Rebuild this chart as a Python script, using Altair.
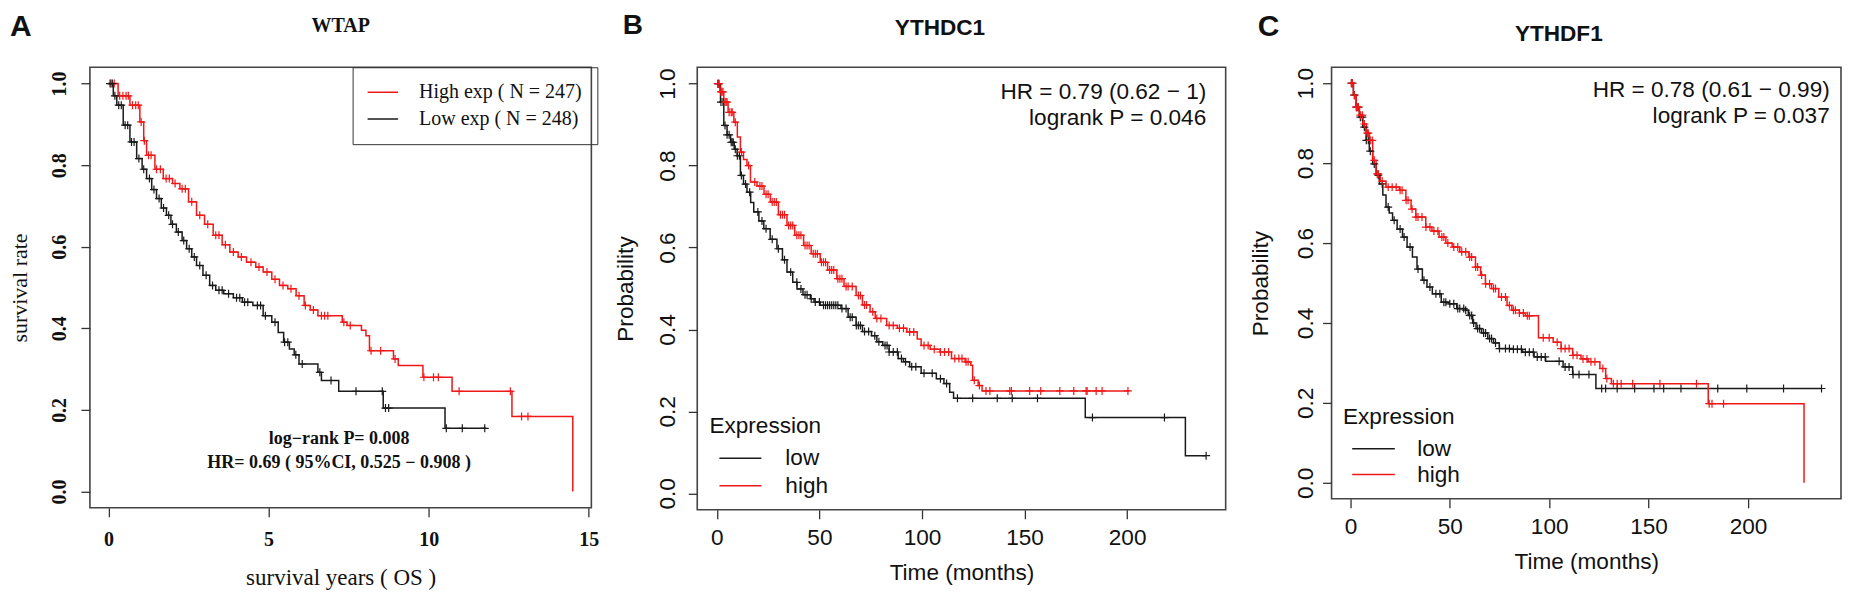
import altair as alt
import pandas as pd

RED = '#f01818'
BLACK = '#1a1a1a'
SERIF = 'Liberation Serif'
SANS = 'Liberation Sans'
PLUS = 'M-1,0L1,0M0,-1L0,1'

# ---------------- Panel A : WTAP (years) ----------------
A_NAMES = ["High exp ( N = 247)", "Low exp ( N = 248)"]
A_HIGH_T = [0, 0.3, 0.67, 0.98, 1.1, 1.19, 1.45, 1.71, 2.0, 2.23, 2.5, 2.75, 3.0, 3.27, 3.55, 3.79,
            4.05, 4.31, 4.6, 4.83, 5.1, 5.34, 5.6, 5.86, 6.11, 6.3, 6.54, 7.3, 7.45, 7.9, 8.04, 8.15,
            8.9, 9.05, 9.82, 10.73, 12.6, 14.5]
A_HIGH_S = [1.0, 0.97, 0.947, 0.906, 0.86, 0.824, 0.79, 0.767, 0.755, 0.742, 0.71, 0.677, 0.655,
            0.628, 0.605, 0.587, 0.575, 0.562, 0.55, 0.538, 0.52, 0.505, 0.497, 0.48, 0.456, 0.445,
            0.431, 0.415, 0.407, 0.395, 0.382, 0.345, 0.325, 0.309, 0.28, 0.2455, 0.184, 0.0]
A_LOW_T = [0, 0.15, 0.26, 0.46, 0.67, 0.88, 1.05, 1.19, 1.35, 1.5, 1.65, 1.81, 1.95, 2.12, 2.3,
           2.44, 2.6, 2.75, 2.95, 3.16, 3.35, 3.6, 3.9, 4.18, 4.51, 4.83, 5.1, 5.3, 5.47, 5.65, 5.8,
           5.95, 6.54, 6.65, 7.19, 8.58, 10.51, 11.8]
A_LOW_S = [1.0, 0.97, 0.947, 0.898, 0.857, 0.816, 0.79, 0.767, 0.74, 0.718, 0.695, 0.677, 0.655,
           0.636, 0.615, 0.595, 0.575, 0.554, 0.53, 0.505, 0.493, 0.485, 0.475, 0.464, 0.456, 0.431,
           0.415, 0.39, 0.366, 0.349, 0.335, 0.3125, 0.292, 0.272, 0.2455, 0.2045, 0.1547, 0.1547]
A_HIGH_CENS = [0.08, 0.18, 0.35, 0.45, 0.55, 0.62, 0.75, 0.85, 0.93, 1.02, 1.12, 1.25, 1.33, 1.5,
               1.62, 1.8, 1.9, 2.08, 2.3, 2.4, 2.6, 2.85, 3.1, 3.35, 3.45, 3.65, 3.9, 4.15, 4.45,
               4.7, 4.95, 5.2, 5.45, 5.7, 5.95, 6.15, 6.4, 6.65, 6.75, 6.85, 7.35, 7.55, 8.2, 8.5,
               8.95, 9.85, 10.15, 10.3, 10.95, 12.55, 12.9, 13.1]
A_LOW_CENS = [0.05, 0.12, 0.2, 0.32, 0.4, 0.52, 0.6, 0.72, 0.8, 0.95, 1.1, 1.28, 1.42, 1.58, 1.72,
              1.88, 2.0, 2.18, 2.35, 2.52, 2.68, 2.85, 3.05, 3.25, 3.45, 3.55, 3.75, 4.0, 4.1, 4.25,
              4.35, 4.65, 4.75, 4.9, 5.2, 5.5, 5.6, 5.85, 6.05, 6.6, 6.95, 7.73, 8.55, 8.65, 8.75,
              10.55, 11.05, 11.75]
A_XTICKS = [0, 5, 10, 15]

# ---------------- Panel B : YTHDC1 (months) ----------------
BC_NAMES = ["low", "high"]
B_HIGH_T = [0, 1.5, 3.4, 5.5, 8.3, 10, 11.5, 13, 14.7, 16.4, 19.6, 23, 26.1, 30, 34.2, 38, 42.3,
            46, 50.4, 54, 58.5, 62, 67.9, 71, 74.7, 77.2, 82.8, 88, 92.6, 97.7, 99.6, 104, 108.8,
            114.4, 121, 123.8, 124.7, 127.4, 129.3, 201.2]
B_HIGH_S = [1.0, 0.98, 0.955, 0.93, 0.906, 0.87, 0.833, 0.815, 0.8, 0.76, 0.75, 0.73, 0.711, 0.68,
            0.654, 0.63, 0.605, 0.585, 0.564, 0.545, 0.524, 0.505, 0.483, 0.46, 0.443, 0.427, 0.41,
            0.403, 0.394, 0.377, 0.361, 0.352, 0.345, 0.329, 0.321, 0.313, 0.276, 0.263, 0.25, 0.25]
B_LOW_T = [0, 1.8, 3.4, 5, 6.7, 8.5, 9.9, 11.5, 13, 14.7, 16.5, 18, 20.5, 22.9, 26, 29.3, 32, 34.2,
           37, 39.1, 42, 45.6, 47.4, 50.4, 60.5, 64, 67.9, 71, 75.4, 78, 80.9, 84, 88.4, 91, 94,
           99.6, 107, 110.7, 113.5, 115.4, 179.6, 228.4, 238.5]
B_LOW_S = [1.0, 0.955, 0.898, 0.875, 0.857, 0.84, 0.824, 0.776, 0.755, 0.735, 0.71, 0.687, 0.665,
           0.646, 0.62, 0.597, 0.57, 0.54, 0.515, 0.499, 0.485, 0.475, 0.467, 0.459, 0.451, 0.43,
           0.41, 0.395, 0.385, 0.37, 0.361, 0.345, 0.329, 0.321, 0.309, 0.293, 0.28, 0.268, 0.247,
           0.232, 0.185, 0.092, 0.092]
B_HIGH_CENS = [0.5, 1, 2, 2.5, 3, 4, 4.5, 5, 6, 7, 7.5, 9, 12, 15.5, 18.5, 21, 22, 24, 25, 27, 28,
               29, 31, 32, 33, 35, 36, 37, 39, 40, 41, 43, 44, 45, 47, 48, 49, 51, 52, 53, 55, 56,
               57, 59, 60, 61, 63, 64, 66, 69, 70, 72, 73, 76, 78, 80, 84, 86, 89, 91, 94, 96, 101,
               103, 106, 109, 111, 113, 116, 118, 119.5, 121.5, 122.5, 125.5, 128, 131.2, 133.1,
               142.8, 143.6, 152.5, 157.9, 167.2, 174.0, 180.0, 180.5, 184.9, 187.8, 200.4]
B_LOW_CENS = [0.5, 1, 2, 3, 4, 5, 6, 7, 7.5, 8, 9, 10, 11, 12, 14, 16, 20, 22, 24, 27, 30, 33, 36,
              39, 41, 43, 44, 46, 48, 50, 52, 53, 54, 55, 56, 57, 58, 59, 61, 63, 65, 66, 68, 69,
              70, 72, 74, 77, 79, 82, 83, 84, 86, 88, 90, 92, 95, 97, 101, 105, 109, 112, 117.3,
              124.7, 136.7, 144.0, 156.3, 183.1, 218.2, 238.5]

# ---------------- Panel C : YTHDF1 (months) ----------------
C_HIGH_T = [0, 1.5, 2.9, 4.5, 6.2, 8, 9.6, 11.2, 12.9, 15, 17.9, 24.6, 27.9, 30.5, 32.9, 37.9, 41,
            44.6, 48, 51.2, 55, 59.6, 62.9, 65.5, 67.9, 71, 74.6, 78.8, 81.2, 85, 88, 94.6, 102,
            106, 111.8, 116, 119.6, 125.5, 128.4, 131.3, 180, 228.2]
C_HIGH_S = [1.0, 0.97, 0.94, 0.92, 0.898, 0.875, 0.857, 0.807, 0.773, 0.755, 0.74, 0.732, 0.707,
            0.685, 0.665, 0.64, 0.63, 0.615, 0.6, 0.59, 0.578, 0.565, 0.54, 0.52, 0.498, 0.486,
            0.465, 0.444, 0.432, 0.425, 0.418, 0.363, 0.352, 0.336, 0.319, 0.31, 0.303, 0.286,
            0.261, 0.248, 0.198, 0.0]
C_LOW_T = [0, 1.5, 2.9, 4.5, 6.2, 7.9, 9.5, 11.2, 13, 14.6, 16.3, 17.9, 19.5, 21.2, 23.5, 26.2,
           28.5, 31.2, 33.5, 36.2, 38.5, 41.2, 45.7, 49.6, 53.5, 57.9, 59.3, 61.5, 63.2, 66, 69.1,
           72, 74.9, 81.2, 86.6, 92.4, 98.2, 107, 111.8, 123.5, 237]
C_LOW_S = [1.0, 0.97, 0.94, 0.915, 0.89, 0.857, 0.83, 0.798, 0.77, 0.748, 0.72, 0.69, 0.675, 0.657,
           0.635, 0.615, 0.59, 0.565, 0.535, 0.507, 0.49, 0.473, 0.452, 0.448, 0.436, 0.432, 0.419,
           0.4, 0.386, 0.375, 0.361, 0.35, 0.336, 0.334, 0.327, 0.315, 0.304, 0.29, 0.271, 0.236,
           0.236]
C_HIGH_CENS = [0.5, 1, 2, 3, 3.5, 4, 5, 6, 7, 8.5, 9, 10, 11, 12, 13.5, 14, 16, 19, 21, 23, 25,
               26, 28, 29, 31, 33, 34, 36, 38, 40, 42, 44, 46, 47, 49, 52, 54, 56, 58, 60, 61, 63,
               64, 66, 68, 70, 72, 73, 76, 78, 80, 82, 83, 85, 87, 89, 90, 97, 100, 104, 106, 108,
               110, 112, 114, 117, 119, 121, 123, 127, 129, 132.3, 134.2, 136.2, 142, 155.7,
               174.1, 180.5, 181.9, 187.7]
C_LOW_CENS = [0.5, 1, 2, 3, 4, 5, 6, 7, 8, 9, 10, 12, 14, 16, 19, 22, 25, 27, 30, 34, 37, 40, 43,
              45, 47, 48, 50, 52, 54, 55, 57, 58, 60, 61, 62, 64, 65, 67, 68, 70, 71, 73, 75, 78,
              80, 82, 84, 86, 88, 90, 92, 94, 96, 98, 105, 108, 110, 112, 115, 120, 126.4, 128.4,
              134.2, 143, 152.7, 157.6, 166.3, 184.8, 199.4, 217.9, 237]
BC_XTICKS = [0, 50, 100, 150, 200]
Y_TICKS = [0.0, 0.2, 0.4, 0.6, 0.8, 1.0]


def step_value(T, S, t):
    v = S[0]
    for ti, si in zip(T, S):
        if ti <= t:
            v = si
        else:
            break
    return v


def curve_frames(groups):
    lines, cens = [], []
    for name, T, S, C in groups:
        for ti, si in zip(T, S):
            lines.append({'t': ti, 's': si, 'grp': name})
        for c in C:
            cens.append({'t': c, 's': step_value(T, S, c), 'grp': name})
    return pd.DataFrame(lines), pd.DataFrame(cens)


def text_layer(text, x, y, size, font, weight='normal', align='left', baseline='alphabetic'):
    return alt.Chart(pd.DataFrame({'label': [text]})).mark_text(
        align=align, baseline=baseline, font=font, fontSize=size,
        fontWeight=weight, color='#111'
    ).encode(x=alt.value(x), y=alt.value(y), text='label:N')


def axis_common(font, size, weight):
    return dict(grid=False, domain=False, ticks=True, tickSize=9, tickColor='#333', tickWidth=1.3,
                labelFont=font, labelFontSize=size, labelFontWeight=weight, labelColor='#111',
                labelFlush=False, labelOverlap=False, titleFont=font, titleFontWeight='normal',
                titleColor='#111')


def km_panel(groups, names, colors, xdom, W, H, xaxis, yaxis, legend, texts):
    lines_df, cens_df = curve_frames(groups)
    xs = alt.Scale(domain=xdom, nice=False, zero=False)
    ys = alt.Scale(domain=[-0.04, 1.04], nice=False, zero=False)
    cs = alt.Scale(domain=names, range=colors)
    lines = alt.Chart(lines_df).mark_line(interpolate='step-after', strokeWidth=1.5).encode(
        x=alt.X('t:Q', scale=xs, axis=xaxis),
        y=alt.Y('s:Q', scale=ys, axis=yaxis),
        color=alt.Color('grp:N', scale=cs, legend=legend),
    )
    pts = alt.Chart(cens_df).mark_point(shape=PLUS, size=64, filled=False, strokeWidth=1.2,
                                        opacity=1).encode(
        x=alt.X('t:Q', scale=xs, axis=xaxis),
        y=alt.Y('s:Q', scale=ys, axis=yaxis),
        color=alt.Color('grp:N', scale=cs, legend=legend),
    )
    return alt.layer(lines, pts, *texts).properties(width=W, height=H)


# ---------- Panel A ----------
WA, HA = 502, 441
ax_a = axis_common(SERIF, 20, 'bold')
xaxis_a = alt.Axis(values=A_XTICKS, format='d', title='survival years ( OS  )', labelPadding=12.5,
                   titleFontSize=23, titleX=WA / 2, titleY=77, titleAlign='center',
                   titleBaseline='alphabetic', **ax_a)
yaxis_a = alt.Axis(values=Y_TICKS, format='.1f', title='survival rate', labelAngle=270,
                   labelAlign='center', labelBaseline='alphabetic', labelPadding=15,
                   titleFontSize=22, titleAngle=270, titleX=-63, titleY=HA / 2,
                   titleAlign='center', titleBaseline='alphabetic', **ax_a)
legend_a = alt.Legend(title=None, orient='none', legendX=263, legendY=0, direction='vertical',
                      padding=15, strokeColor='#333', symbolType='stroke', symbolSize=1444,
                      symbolStrokeWidth=1.5, symbolOffset=-8.5, labelFont=SERIF, labelFontSize=20,
                      labelColor='#111', labelOffset=20, clipHeight=20, rowPadding=6.7,
                      labelLimit=0)
panel_a = km_panel(
    [(A_NAMES[0], A_HIGH_T, A_HIGH_S, A_HIGH_CENS), (A_NAMES[1], A_LOW_T, A_LOW_S, A_LOW_CENS)],
    A_NAMES, [RED, BLACK], [-0.58, 15.08], WA, HA, xaxis_a, yaxis_a, legend_a,
    [
        text_layer('A', -80, -31, 30, SANS, 'bold'),
        text_layer('WTAP', WA / 2, -35, 20, SERIF, 'bold', align='center'),
        text_layer('log\u2212rank P= 0.008', 249.5, 371.7, 18, SERIF, 'bold', align='center',
                   baseline='middle'),
        text_layer('HR= 0.69 ( 95%CI, 0.525 \u2212 0.908 )', 249.5, 395.7, 18, SERIF, 'bold',
                   align='center', baseline='middle'),
    ])

# ---------- Panel B ----------
WB, HB = 529, 443
ax_b = axis_common(SANS, 22.6, 'normal')
xaxis_b = alt.Axis(values=BC_XTICKS, format='d', title='Time (months)', labelPadding=8.1,
                   titleFontSize=22.6, titleX=WB / 2, titleY=70, titleAlign='center',
                   titleBaseline='alphabetic', **ax_b)
yaxis_b = alt.Axis(values=Y_TICKS, format='.1f', title='Probability', labelAngle=270,
                   labelAlign='center', labelBaseline='alphabetic', labelPadding=13.9,
                   titleFontSize=22.6, titleAngle=270, titleX=-64.8, titleY=HB / 2,
                   titleAlign='center', titleBaseline='alphabetic', **ax_b)
legend_b = alt.Legend(title='Expression', orient='none', legendX=12.2, legendY=348, padding=0,
                      titleFont=SANS, titleFontSize=22.6, titleFontWeight='normal',
                      titleColor='#111', titlePadding=9.2, symbolType='stroke', symbolSize=1764,
                      symbolStrokeWidth=1.5, symbolOffset=9, labelFont=SANS, labelFontSize=22.6,
                      labelColor='#111', labelOffset=23, clipHeight=23, rowPadding=3.7)
panel_b = km_panel(
    [(BC_NAMES[0], B_LOW_T, B_LOW_S, B_LOW_CENS), (BC_NAMES[1], B_HIGH_T, B_HIGH_S, B_HIGH_CENS)],
    BC_NAMES, [BLACK, RED], [-9.54, 248.04], WB, HB, xaxis_b, yaxis_b, legend_b,
    [
        text_layer('B', -74.6, -33, 28, SANS, 'bold'),
        text_layer('YTHDC1', 243, -32, 22.6, SANS, 'bold', align='center'),
        text_layer('HR = 0.79 (0.62 \u2212 1)', WB - 19.5, 25, 22.6, SANS, align='right',
                   baseline='middle'),
        text_layer('logrank P = 0.046', WB - 19.5, 51, 22.6, SANS, align='right',
                   baseline='middle'),
    ])

# ---------- Panel C ----------
WC, HC = 510, 432
ax_c = axis_common(SANS, 22.6, 'normal')
xaxis_c = alt.Axis(values=BC_XTICKS, format='d', title='Time (months)', labelPadding=8.1,
                   titleFontSize=22.6, titleX=WC / 2, titleY=69.3, titleAlign='center',
                   titleBaseline='alphabetic', **ax_c)
yaxis_c = alt.Axis(values=Y_TICKS, format='.1f', title='Probability', labelAngle=270,
                   labelAlign='center', labelBaseline='alphabetic', labelPadding=10.5,
                   titleFontSize=22.6, titleAngle=270, titleX=-64.5, titleY=HC / 2,
                   titleAlign='center', titleBaseline='alphabetic', **ax_c)
legend_c = alt.Legend(title='Expression', orient='none', legendX=11.5, legendY=339.3, padding=0,
                      titleFont=SANS, titleFontSize=22.6, titleFontWeight='normal',
                      titleColor='#111', titlePadding=8.6, symbolType='stroke', symbolSize=1823,
                      symbolStrokeWidth=1.5, symbolOffset=8, labelFont=SANS, labelFontSize=22.6,
                      labelColor='#111', labelOffset=21.3, clipHeight=23, rowPadding=1.7)
panel_c = km_panel(
    [(BC_NAMES[0], C_LOW_T, C_LOW_S, C_LOW_CENS), (BC_NAMES[1], C_HIGH_T, C_HIGH_S, C_HIGH_CENS)],
    BC_NAMES, [BLACK, RED], [-9.49, 246.8], WC, HC, xaxis_c, yaxis_c, legend_c,
    [
        text_layer('C', -74, -31, 30, SANS, 'bold'),
        text_layer('YTHDF1', 227.5, -26.7, 22.6, SANS, 'bold', align='center'),
        text_layer('HR = 0.78 (0.61 \u2212 0.99)', WC - 11.3, 22.7, 22.6, SANS, align='right',
                   baseline='middle'),
        text_layer('logrank P = 0.037', WC - 11.3, 49, 22.6, SANS, align='right',
                   baseline='middle'),
    ])

chart = alt.hconcat(panel_a, panel_b, panel_c, spacing=106, bounds='flush').resolve_scale(
    color='independent', x='independent', y='independent'
).resolve_legend(color='independent').properties(
    padding={"top": 3, "left": 0, "right": 0, "bottom": 0}, background='white'
).configure_view(stroke='#444', strokeWidth=1.6)

chart.save("out.html", embed_options={"renderer": "svg", "actions": False})
